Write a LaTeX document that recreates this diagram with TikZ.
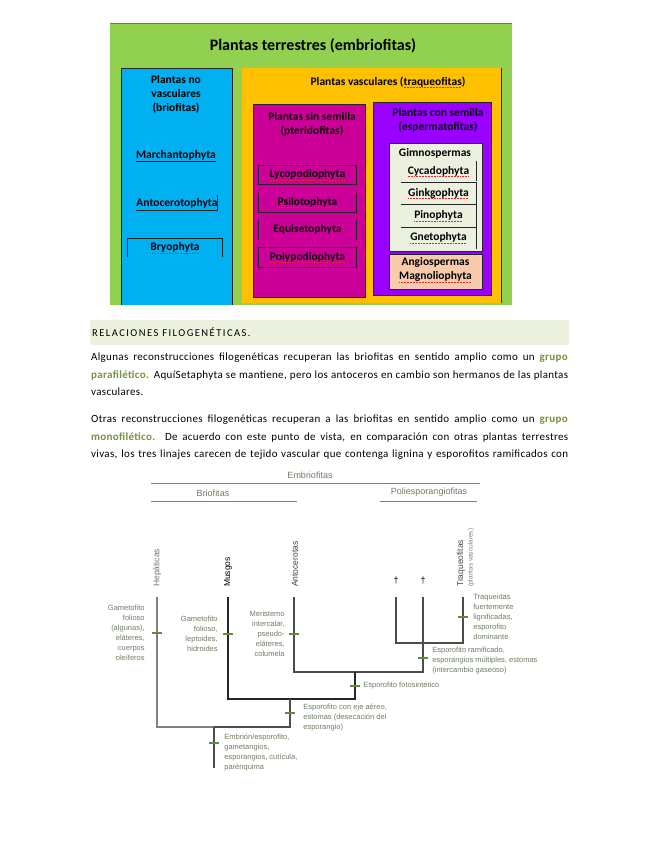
\documentclass[tikz,border=0pt]{standalone}
\usepackage{fontspec}
\setmainfont{Carlito}
\newfontfamily\treefont{Liberation Sans}
\usepackage{tikz}
\usetikzlibrary{positioning,calc}
\definecolor{leafgreen}{RGB}{146,208,80}
\definecolor{skyblue}{RGB}{0,176,240}
\definecolor{amber}{RGB}{255,192,0}
\definecolor{fuchsia}{RGB}{204,0,153}
\definecolor{seedviolet}{RGB}{153,0,255}
\definecolor{palegreen}{RGB}{235,241,222}
\definecolor{peach}{RGB}{248,203,173}
\definecolor{olivegreen}{RGB}{118,146,60}
\definecolor{treegreen}{RGB}{96,140,58}
\definecolor{treetext}{RGB}{112,124,98}
\definecolor{spellred}{RGB}{220,40,40}
\newcommand\spellmark[1]{\setbox0\hbox{#1}\rlap{\hbox to \wd0{\color{spellred}\xleaders\hbox{\rule[-2.4pt]{0.9pt}{0.6pt}\hspace{0.6pt}}\hfill}}\box0}
\tikzset{
  panel/.style={draw=black!85,line width=0.9pt},
  cellrule/.style={black!85,line width=0.8pt},
  head/.style={font=\bfseries\fontsize{11.5}{14}\selectfont,align=center,inner sep=0pt},
  taxon/.style={font=\bfseries\fontsize{11.5}{13}\selectfont,inner sep=0pt},
  pterocell/.style={taxon,minimum width=97pt,minimum height=19pt},
  gymcell/.style={taxon,minimum width=75pt,minimum height=21.8pt},
  para/.style={text width=477pt,align=justify,inner sep=0pt,font=\fontsize{11}{17.5}\selectfont\addfontfeature{LetterSpace=3}},
  branch/.style={black!70,line width=1.2pt},
  synapo/.style={fill=treegreen,minimum width=10pt,minimum height=1.6pt,inner sep=0pt},
  trait/.style={font=\treefont\fontsize{7.5}{10}\selectfont,text=treetext,inner sep=0pt},
  cladename/.style={font=\treefont\fontsize{9}{11}\selectfont,text=treetext,inner sep=0pt},
  cladeline/.style={olivegreen,line width=0.8pt},
  leaf/.style={font=\treefont\fontsize{8.5}{10}\selectfont,rotate=90,anchor=west,inner sep=0pt}
}
\begin{document}
\begin{tikzpicture}[x=1pt,y=-1pt,node distance=8pt]
\useasboundingbox[fill=white] (0,0) rectangle (655,848);
% cuadro de clasificacion
\fill[leafgreen] (110,23) rectangle (512,305);
\draw[black!55,line width=0.8pt] (110,23) -- (512,23);
\node[font=\bfseries\fontsize{16}{18}\selectfont] (title) at (313,46) {Plantas terrestres (embriofitas)};
\fill[skyblue] (121,68) rectangle (232,305);
\draw[panel] (121,305) -- (121,68) -- (232,68) -- (232,305);
\fill[amber] (242,68) rectangle (501,303);
\draw[panel] (501,68) -- (501,303);
\filldraw[panel,fill=fuchsia] (253,104) rectangle (365,297);
\filldraw[panel,fill=seedviolet] (373,102) rectangle (491,295);
\filldraw[panel,line width=0.6pt,fill=palegreen] (389,143) rectangle (482,251);
\filldraw[panel,line width=0.6pt,fill=peach] (389,254) rectangle (482,289);

\node[head] (nonvasc) at (176,94) {Plantas no\\vasculares\\(briofitas)};
\node[taxon] (march) at (176,156) {\underline{Marchantophyta}};
\node[taxon] (antoc) at (177,203) {Antocerotophyta};
\draw[cellrule] (antoc.south west) ++(0,2) -- ([yshift=-2pt]antoc.south east) -- ++(0,-15);
\node[taxon,minimum width=94pt,minimum height=18pt] (bryo) at (175,248) {\spellmark{Bryophyta}};
\draw[cellrule] (bryo.south west) -- (bryo.north west) -- (bryo.north east) -- (bryo.south east);

\node[head] (vasc) at (388,82) {Plantas vasculares (\spellmark{traqueofitas})};
\node[head] (sinsem) at (312,124) {Plantas sin semilla\\(pteridofitas)};
\node[pterocell] (lyco) at (307.5,175) {\spellmark{Lycopodiophyta}};
\node[pterocell,below=of lyco] (psil) {\spellmark{Psilotophyta}};
\node[pterocell,below=of psil] (equi) {Equisetophyta};
\node[pterocell,below=of equi] (poly) {\spellmark{Polypodiophyta}};
\draw[cellrule] (lyco.north west) rectangle (lyco.south east);
\draw[cellrule] (psil.north west) -- (psil.south west) -- (psil.south east) -- (psil.north east);
\draw[cellrule] (equi.north west) -- (equi.south west);
\draw[cellrule] (equi.north east) -- (equi.south east);
\draw[cellrule] (poly.north west) rectangle (poly.south east);

\node[head] (consem) at (438,120) {Plantas con semilla\\(espermatofitas)};
\node[head] (gymno) at (435,153) {Gimnospermas};
\node[gymcell] (cyca) at (438.5,171.5) {\spellmark{Cycadophyta}};
\node[gymcell,below=0pt of cyca] (ginkgo) {\spellmark{Ginkgophyta}};
\node[gymcell,below=0pt of ginkgo] (pino) {\spellmark{Pinophyta}};
\node[gymcell,below=0pt of pino] (gneto) {\spellmark{Gnetophyta}};
\draw[cellrule] ([yshift=-1pt]cyca.north east) -- ([yshift=2pt]cyca.south east);
\foreach \cell in {ginkgo,pino,gneto}
  \draw[cellrule] (\cell.north west) -- (\cell.north east) -- (\cell.south east);
\node[head] (angio) at (435.5,270) {Angiospermas\\\spellmark{Magnoliophyta}};

% texto
\fill[palegreen] (90,320) rectangle (569,345);
\node[anchor=west,inner sep=0pt,font=\fontsize{10.5}{12}\selectfont\addfontfeature{LetterSpace=14}] (relhead) at (92,332.5) {RELACIONES FILOGENÉTICAS.};
\node[para,anchor=north west] (par1) at (91,353) {Algunas reconstrucciones filogenéticas recuperan las briofitas en sentido amplio como un \textcolor{olivegreen}{\textbf{grupo}}\linebreak
\textcolor{olivegreen}{\textbf{parafilético.}} AquíSetaphyta se mantiene, pero los antoceros en cambio son hermanos de las plantas\linebreak
vasculares.};
\node[para,anchor=north west] (par2) at (91,415) {\parfillskip=0pt Otras reconstrucciones filogenéticas recuperan a las briofitas en sentido amplio como un \textcolor{olivegreen}{\textbf{grupo}}\linebreak
\textcolor{olivegreen}{\textbf{monofilético.}} De acuerdo con este punto de vista, en comparación con otras plantas terrestres\linebreak
vivas, los tres linajes carecen de tejido vascular que contenga lignina y esporofitos ramificados con\par};

% cladograma
\node[cladename] (embr) at (310,475) {Embriofitas};
\draw[cladeline] (151,483) -- (480,483);
\node[cladename] (brio) at (213,493) {Briofitas};
\draw[cladeline] (151,501) -- (297,501);
\node[cladename] (polisp) at (429,492) {Poliesporangiofitas};
\draw[cladeline] (380,501) -- (477,501);

\node[leaf,text=black!55] (hep) at (157,587) {Hepáticas};
\node[leaf,text=black] (mus) at (228,587) {Musgos};
\node[leaf,text=black!75] (ant) at (295,587) {Antocerotas};
\node[leaf,text=black!70] (traq) at (461,587) {Traqueofitas};
\node[leaf,font=\treefont\fontsize{6.5}{8}\selectfont,text=black!50] (vascnote) at (471,587) {(plantas vasculares)};
\node[font=\treefont\fontsize{9}{10}\selectfont] (ext1) at (396,581) {†};
\node[font=\treefont\fontsize{9}{10}\selectfont] (ext2) at (423,581) {†};

\coordinate (hepTip) at (157,597);
\coordinate (musTip) at (228,597);
\coordinate (antTip) at (294,597);
\coordinate (ext1Tip) at (396,597);
\coordinate (ext2Tip) at (423,597);
\coordinate (traqTip) at (463,597);
\coordinate (kTraq) at (423,643);
\coordinate (kFoto) at (355,672);
\coordinate (kEje) at (290,699);
\coordinate (kEmb) at (214,727);
\coordinate (root) at (214,768);

\draw[branch] (ext1Tip) |- (kTraq) -| (traqTip);
\draw[branch] (antTip) |- (kFoto) -| (ext2Tip);
\draw[branch,black!85] (musTip) |- (kEje) -| (kFoto);
\draw[branch,black!50] (hepTip) |- (kEmb);
\draw[branch] (kEmb) -| (kEje);
\draw[branch] (kEmb) -- (root);

\node[synapo] (tHep) at (157,633) {};
\node[trait,align=right,left=7pt of tHep] (hepTraits) {Gametofito\\folioso\\(algunas),\\eláteres,\\cuerpos\\oleíferos};
\node[synapo] (tMus) at (228,634) {};
\node[trait,align=right,left=5pt of tMus] (musTraits) {Gametofito\\folioso,\\leptoides,\\hidroides};
\node[synapo] (tAnt) at (294,634) {};
\node[trait,align=right,left=4pt of tAnt] (antTraits) {Meristemo\\intercalar,\\pseudo-\\eláteres,\\columela};
\node[synapo] (tTraq) at (463,617) {};
\node[trait,align=left,right=5pt of tTraq] (traqTraits) {Traqueidas\\fuertemente\\lignificadas,\\esporofito\\dominante};
\node[synapo] (tPoli) at (423,658) {};
\node[trait,align=left,right=4pt of tPoli,yshift=-3pt] (poliTraits) {Esporofito ramificado,\\esporangios múltiples, estomas\\(intercambio gaseoso)};
\node[synapo] (tFoto) at (355,686) {};
\node[trait,align=left,right=3pt of tFoto] (fotoTraits) {Esporofito fotosintético};
\node[synapo] (tEje) at (290,713) {};
\node[trait,align=left,right=8pt of tEje,yshift=-5pt] (ejeTraits) {Esporofito con eje aéreo,\\estomas (desecación del\\esporangio)};
\node[synapo] (tEmb) at (214,743) {};
\node[trait,align=left,right=5pt of tEmb,yshift=-10pt] (embTraits) {Embrión/esporofito,\\gametangios,\\esporangios, cutícula,\\parénquima};
\end{tikzpicture}
\end{document}
